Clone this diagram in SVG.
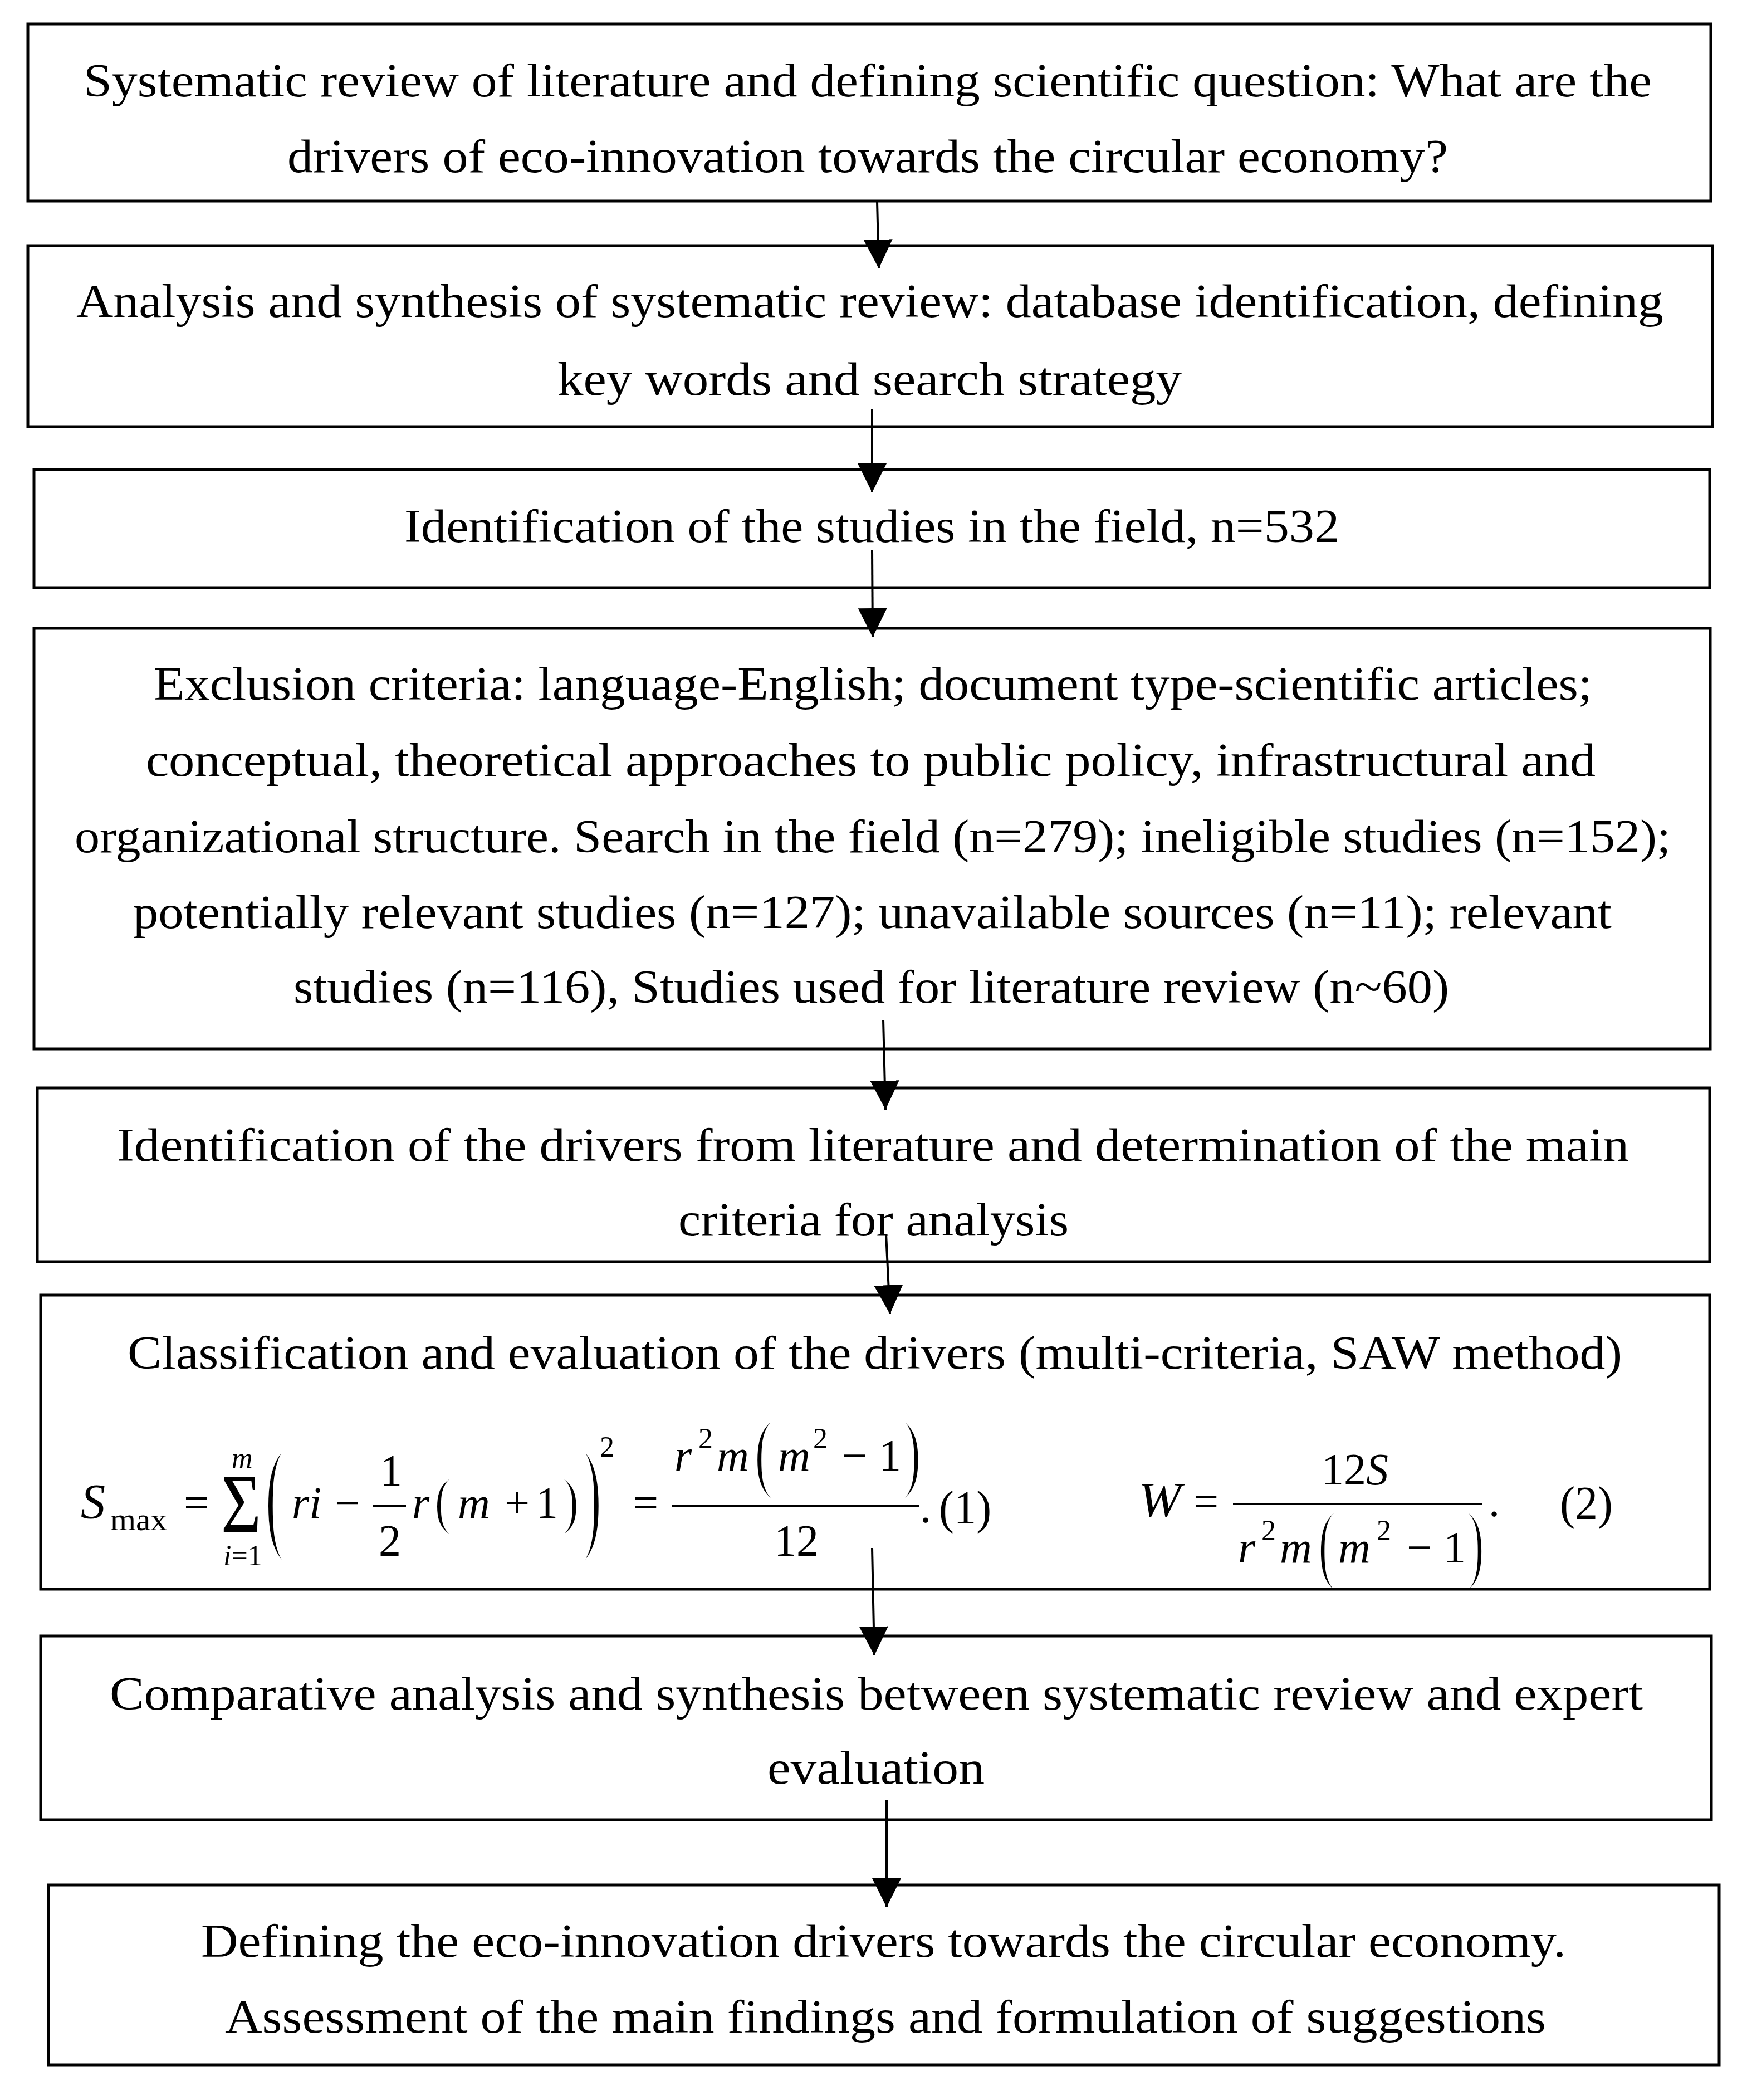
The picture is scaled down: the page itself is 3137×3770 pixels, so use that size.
<svg xmlns="http://www.w3.org/2000/svg" width="3137" height="3770" viewBox="0 0 3137 3770">
<style>
.box{fill:#fff;stroke:#000;stroke-width:5}
.outline{fill:none;stroke:#000;stroke-width:5}
.t{font-family:"Liberation Serif","Times New Roman",serif;font-size:84px;fill:#000}
.f{font-family:"Liberation Serif","Times New Roman",serif;font-size:80px;fill:#000}
.fi{font-family:"Liberation Serif","Times New Roman",serif;font-size:80px;font-style:italic;fill:#000}
.fs{font-family:"Liberation Serif","Times New Roman",serif;font-size:52px;fill:#000}
.p{font-family:"Liberation Serif","Times New Roman",serif;fill:#000;stroke:#fff}
.conn{stroke:#000;stroke-width:4;fill:none;marker-end:url(#ah)}
.bar{stroke:#000;stroke-width:4}
</style>
<defs>
<marker id="ah" markerUnits="userSpaceOnUse" markerWidth="53" markerHeight="52" refX="52" refY="26" orient="auto">
<path d="M0,0 L52,26 L0,52 Z" fill="#000"/>
</marker>
</defs>
<rect width="3137" height="3770" fill="#fff"/>

<g id="n1">
<rect class="box" x="50" y="43" width="3022" height="318"/>
<text class="t" x="150" y="173" textLength="2816" lengthAdjust="spacingAndGlyphs">Systematic review of literature and defining scientific question: What are the</text>
<text class="t" x="516" y="309" textLength="2084" lengthAdjust="spacingAndGlyphs">drivers of eco-innovation towards the circular economy?</text>
</g>

<g id="n2">
<rect class="box" x="50" y="441" width="3025" height="325"/>
<text class="t" x="137" y="569" textLength="2850" lengthAdjust="spacingAndGlyphs">Analysis and synthesis of systematic review: database identification, defining</text>
<text class="t" x="1001" y="709" textLength="1121" lengthAdjust="spacingAndGlyphs">key words and search strategy</text>
</g>

<g id="n3">
<rect class="box" x="61" y="843" width="3009" height="212"/>
<text class="t" x="726" y="973" textLength="1679" lengthAdjust="spacingAndGlyphs">Identification of the studies in the field, n=532</text>
</g>

<g id="n4">
<rect class="box" x="61" y="1128" width="3010" height="755"/>
<text class="t" x="276" y="1256" textLength="2583" lengthAdjust="spacingAndGlyphs">Exclusion criteria: language-English; document type-scientific articles;</text>
<text class="t" x="262" y="1393" textLength="2603" lengthAdjust="spacingAndGlyphs">conceptual, theoretical approaches to public policy, infrastructural and</text>
<text class="t" x="134" y="1530" textLength="2866" lengthAdjust="spacingAndGlyphs">organizational structure. Search in the field (n=279); ineligible studies (n=152);</text>
<text class="t" x="239" y="1666" textLength="2655" lengthAdjust="spacingAndGlyphs">potentially relevant studies (n=127); unavailable sources (n=11); relevant</text>
<text class="t" x="527" y="1800" textLength="2075" lengthAdjust="spacingAndGlyphs">studies (n=116), Studies used for literature review (n~60)</text>
</g>

<g id="n5">
<rect class="box" x="67" y="1953" width="3003" height="312"/>
<text class="t" x="210" y="2084" textLength="2715" lengthAdjust="spacingAndGlyphs">Identification of the drivers from literature and determination of the main</text>
<text class="t" x="1218" y="2218" textLength="701" lengthAdjust="spacingAndGlyphs">criteria for analysis</text>
</g>

<g id="n6">
<rect x="73" y="2325" width="2997" height="528" fill="#fff"/>
<text class="t" x="229" y="2457" textLength="2684" lengthAdjust="spacingAndGlyphs">Classification and evaluation of the drivers (multi-criteria, SAW method)</text>
<!-- formula 1 -->
<text class="fi" x="145" y="2725" style="font-size:88px">S</text>
<text class="fs" x="198" y="2747" style="font-size:56px" textLength="102" lengthAdjust="spacingAndGlyphs">max</text>
<text class="f" x="330" y="2725">=</text>
<text class="f" x="397" y="2750" style="font-size:150px" textLength="72" lengthAdjust="spacingAndGlyphs">Σ</text>
<text class="fs" x="416" y="2635" style="font-style:italic">m</text>
<text class="fs" x="401" y="2810"><tspan style="font-style:italic">i</tspan>=1</text>
<text class="p" style="font-size:254px;stroke-width:11" transform="translate(472,2765) scale(0.6,1)">(</text>
<text class="fi" x="524" y="2725">ri</text>
<text class="f" x="601" y="2725">−</text>
<text class="f" x="682" y="2667">1</text>
<line class="bar" x1="669" y1="2703" x2="729" y2="2703"/>
<text class="f" x="680" y="2793">2</text>
<text class="fi" x="740" y="2725">r</text>
<text class="p" style="font-size:125px;stroke-width:5" transform="translate(777,2735)">(</text>
<text class="fi" x="822" y="2725">m</text>
<text class="f" x="906" y="2725">+</text>
<text class="f" x="962" y="2725">1</text>
<text class="p" style="font-size:125px;stroke-width:5" transform="translate(1001,2735)">)</text>
<text class="p" style="font-size:254px;stroke-width:11" transform="translate(1034,2765) scale(0.6,1)">)</text>
<text class="fs" x="1077" y="2615">2</text>
<text class="f" x="1137" y="2725">=</text>
<text class="fi" x="1211" y="2640">r</text>
<text class="fs" x="1254" y="2600">2</text>
<text class="fi" x="1287" y="2640">m</text>
<text class="p" style="font-size:169px;stroke-width:6.6" transform="translate(1352,2662) scale(0.76,1)">(</text>
<text class="fi" x="1397" y="2640">m</text>
<text class="fs" x="1460" y="2600">2</text>
<text class="f" x="1512" y="2640">−</text>
<text class="f" x="1578" y="2640">1</text>
<text class="p" style="font-size:169px;stroke-width:6.6" transform="translate(1614,2662) scale(0.76,1)">)</text>
<line class="bar" x1="1206" y1="2703" x2="1650" y2="2703"/>
<text class="f" x="1390" y="2793">12</text>
<text class="f" x="1652" y="2733">.</text>
<text class="f" x="1686" y="2735" style="font-size:84px" textLength="94" lengthAdjust="spacingAndGlyphs">(1)</text>
<!-- formula 2 -->
<text class="fi" x="2044" y="2722" style="font-size:88px" textLength="77" lengthAdjust="spacingAndGlyphs">W</text>
<text class="f" x="2143" y="2722">=</text>
<text class="f" x="2373" y="2665">12<tspan style="font-style:italic">S</tspan></text>
<line class="bar" x1="2214" y1="2700" x2="2661" y2="2700"/>
<text class="fi" x="2223" y="2805">r</text>
<text class="fs" x="2265" y="2765">2</text>
<text class="fi" x="2298" y="2805">m</text>
<text class="p" style="font-size:166px;stroke-width:6" transform="translate(2365,2825) scale(0.67,1)">(</text>
<text class="fi" x="2403" y="2805">m</text>
<text class="fs" x="2472" y="2765">2</text>
<text class="f" x="2526" y="2805">−</text>
<text class="f" x="2592" y="2805">1</text>
<text class="p" style="font-size:166px;stroke-width:6" transform="translate(2630,2825) scale(0.67,1)">)</text>
<text class="f" x="2673" y="2722">.</text>
<text class="f" x="2801" y="2727" style="font-size:84px" textLength="95" lengthAdjust="spacingAndGlyphs">(2)</text>
<rect class="outline" x="73" y="2325" width="2997" height="528"/>
</g>

<g id="n7">
<rect class="box" x="73" y="2937" width="3000" height="330"/>
<text class="t" x="197" y="3069" textLength="2753" lengthAdjust="spacingAndGlyphs">Comparative analysis and synthesis between systematic review and expert</text>
<text class="t" x="1378" y="3202" textLength="390" lengthAdjust="spacingAndGlyphs">evaluation</text>
</g>

<g id="n8">
<rect class="box" x="87" y="3384" width="3000" height="323"/>
<text class="t" x="361" y="3513" textLength="2451" lengthAdjust="spacingAndGlyphs">Defining the eco-innovation drivers towards the circular economy.</text>
<text class="t" x="404" y="3649" textLength="2372" lengthAdjust="spacingAndGlyphs">Assessment of the main findings and formulation of suggestions</text>
</g>

<g id="connectors">
<line class="conn" x1="1575" y1="362" x2="1578" y2="482"/>
<line class="conn" x1="1566" y1="735" x2="1566" y2="884"/>
<line class="conn" x1="1566" y1="988" x2="1567" y2="1144"/>
<line class="conn" x1="1586" y1="1831" x2="1590" y2="1992"/>
<line class="conn" x1="1591" y1="2215" x2="1598" y2="2359"/>
<line class="conn" x1="1566" y1="2779" x2="1570" y2="2972"/>
<line class="conn" x1="1592" y1="3232" x2="1592" y2="3424"/>
</g>
</svg>
